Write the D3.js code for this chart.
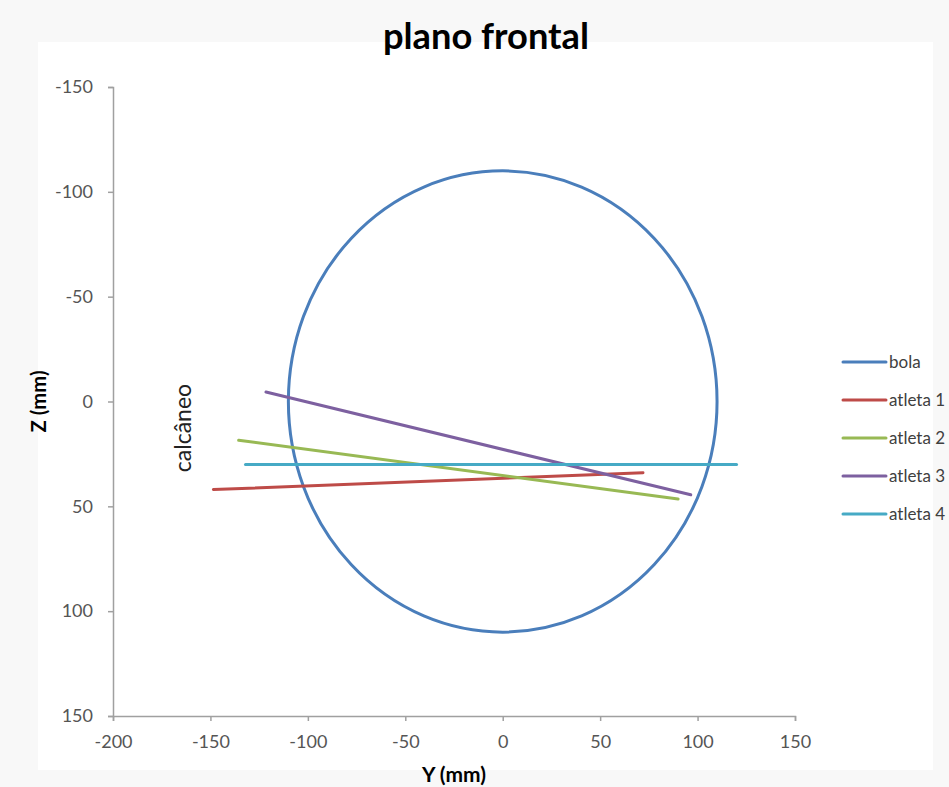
<!DOCTYPE html>
<html><head><meta charset="utf-8">
<script src="https://cdn.jsdelivr.net/npm/d3@7/dist/d3.min.js"></script>
<style>body{margin:0;background:#f7f7f7;}svg{display:block;}</style>
</head><body>
<script>
const xTicks = [-200,-150,-100,-50,0,50,100,150];
const yTicks = [-150,-100,-50,0,50,100,150];
const ballCenter = [0, 0];
const ballRadius = [110];
const seriesNames = ["bola","atleta 1","atleta 2","atleta 3","atleta 4"];
const seriesColors = ["#4A7EBB","#BE4B48","#98B954","#7D60A0","#46AAC5"];
const atleta1 = [[-148.5, 42], [72, 34]];
const atleta2 = [[-135.5, 18.5], [90, 46.5]];
const atleta3 = [[-121.5, -4.5], [96.5, 44.5]];
const atleta4 = [[-132, 30], [120, 30]];
const athletes = [atleta1, atleta2, atleta3, atleta4];

const W = 949, H = 787;
const svg = d3.select("body").append("svg").attr("width", W).attr("height", H);
svg.append("rect").attr("x",0).attr("y",0).attr("width",W).attr("height",H).attr("fill","#f8f8f8");
svg.append("rect").attr("x",38).attr("y",42).attr("width",895).attr("height",728).attr("fill","#ffffff");

const x = d3.scaleLinear().domain([-200,150]).range([113,795]);
const y = d3.scaleLinear().domain([-150,150]).range([87,716]);
const font = "Lato, 'Open Sans', sans-serif";

function fitWidth(sel, w) {
  const len = sel.node().getComputedTextLength();
  const fs = parseFloat(sel.attr("font-size"));
  sel.attr("font-size", fs * w / len);
}

const title = svg.append("text").attr("x",486).attr("y",49).attr("text-anchor","middle")
  .attr("font-family",font).attr("font-weight","bold").attr("font-size",30).attr("fill","#000").text("plano frontal");
fitWidth(title, 206);

const ax = svg.append("g").attr("transform",`translate(0,${y(150)})`)
  .call(d3.axisBottom(x).tickValues(xTicks).tickSize(5).tickPadding(14).tickFormat(d3.format("d")));
const ay = svg.append("g").attr("transform",`translate(${x(-200)},0)`)
  .call(d3.axisLeft(y).tickValues(yTicks).tickSize(5).tickPadding(15).tickFormat(d3.format("d")));
[ax, ay].forEach(g => {
  g.select(".domain").attr("stroke","#a0a0a0").attr("stroke-width",1.5);
  g.selectAll(".tick line").attr("stroke","#a0a0a0").attr("stroke-width",1.5);
  g.selectAll(".tick text").attr("font-family",font).attr("font-size",18).attr("fill","#555");
});
ax.selectAll(".tick text").text(d => d < 0 ? "-" + Math.abs(d) : d);
ay.selectAll(".tick text").text(d => d < 0 ? "-" + Math.abs(d) : d);

const xt = svg.append("text").attr("x",454).attr("y",782).attr("text-anchor","middle")
  .attr("font-family",font).attr("font-weight","bold").attr("font-size",16).attr("fill","#000").text("Y (mm)");
fitWidth(xt, 64);
const yt = svg.append("text").attr("transform",`translate(46,${y(0)}) rotate(-90)`).attr("text-anchor","middle")
  .attr("font-family",font).attr("font-weight","bold").attr("font-size",16).attr("fill","#000").text("Z (mm)");
fitWidth(yt, 62);

svg.append("text").attr("transform",`translate(191,428) rotate(-90)`).attr("text-anchor","middle")
  .attr("font-family",font).attr("font-size",23).attr("fill","#222").text("calcâneo");

svg.append("ellipse")
  .attr("cx", x(ballCenter[0])).attr("cy", y(ballCenter[1]))
  .attr("rx", x(ballCenter[0] + ballRadius[0]) - x(ballCenter[0]))
  .attr("ry", y(ballCenter[1] + ballRadius[0]) - y(ballCenter[1]))
  .attr("fill","none").attr("stroke",seriesColors[0]).attr("stroke-width",3);

const line = d3.line().x(d => x(d[0])).y(d => y(d[1]));
athletes.forEach((a, i) => {
  svg.append("path").attr("d", line(a)).attr("fill","none")
    .attr("stroke", seriesColors[i+1]).attr("stroke-width",3).attr("stroke-linecap","round");
});

const lg = svg.append("g");
seriesNames.forEach((n, i) => {
  const yy = 362 + i * 38;
  lg.append("line").attr("x1",843).attr("x2",886).attr("y1",yy).attr("y2",yy)
    .attr("stroke",seriesColors[i]).attr("stroke-width",3).attr("stroke-linecap","round");
  lg.append("text").attr("x",889).attr("y",yy+6).attr("font-family",font).attr("font-size",17)
    .attr("fill","#404040").text(n);
});
</script>
</body></html>
